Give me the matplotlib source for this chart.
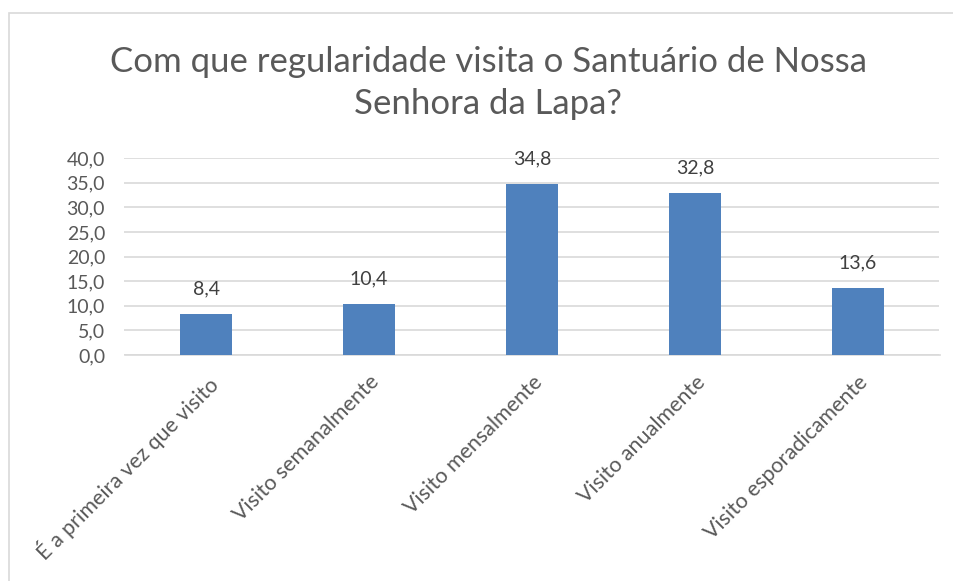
import matplotlib
matplotlib.use("Agg")
import matplotlib.pyplot as plt
from matplotlib.patches import Rectangle

categories = ["É a primeira vez que visito", "Visito semanalmente", "Visito mensalmente",
              "Visito anualmente", "Visito esporadicamente"]
values = [8.4, 10.4, 34.8, 32.8, 13.6]
yticks = [0, 5, 10, 15, 20, 25, 30, 35, 40]
title = "Com que regularidade visita o Santuário de Nossa\nSenhora da Lapa?"

plt.rcParams['font.family'] = ['Lato', 'DejaVu Sans']
txt = '#595959'

fig = plt.figure(figsize=(9.54, 5.81), dpi=100)
fig.patches.append(Rectangle((9/954, -0.1), 1.2, 1 - 13/581 + 0.1, transform=fig.transFigure,
                             fill=False, edgecolor='#d9d9d9', linewidth=1.2))
ax = fig.add_axes([124.5/954, 1 - 355/581, 815/954, 197/581])
x = list(range(len(categories)))
ax.bar(x, values, width=0.32, color='#4f81bd', zorder=3)
ax.set_xlim(-0.5, len(categories) - 0.5)
ax.set_ylim(0, 40)
ax.set_yticks(yticks)
ax.set_yticklabels([f"{v:.1f}".replace('.', ',') for v in yticks], fontsize=14, color=txt)
ax.set_xticks(x)
ax.set_xticklabels(categories, rotation=45, ha='right', va='top', rotation_mode='anchor',
                   fontsize=15.5, color=txt)
ax.tick_params(axis='both', length=0)
ax.tick_params(axis='y', pad=14)
ax.tick_params(axis='x', pad=12)
ax.grid(axis='y', color='#d9d9d9', linewidth=1.2, zorder=0)
for s in ['top', 'right', 'left']:
    ax.spines[s].set_visible(False)
ax.spines['bottom'].set_color('#d9d9d9')
ax.spines['bottom'].set_linewidth(1.2)
for xi, v in zip(x, values):
    ax.annotate(f"{v:.1f}".replace('.', ','), (xi, v), xytext=(0, 12), textcoords='offset points',
                ha='center', va='bottom', fontsize=14, color='#404040')
fig.text(488/954, 1 - 83/581, title, ha='center', va='center', fontsize=25, color=txt,
         linespacing=1.35)
fig.savefig('out.png', dpi=100, facecolor='white')
